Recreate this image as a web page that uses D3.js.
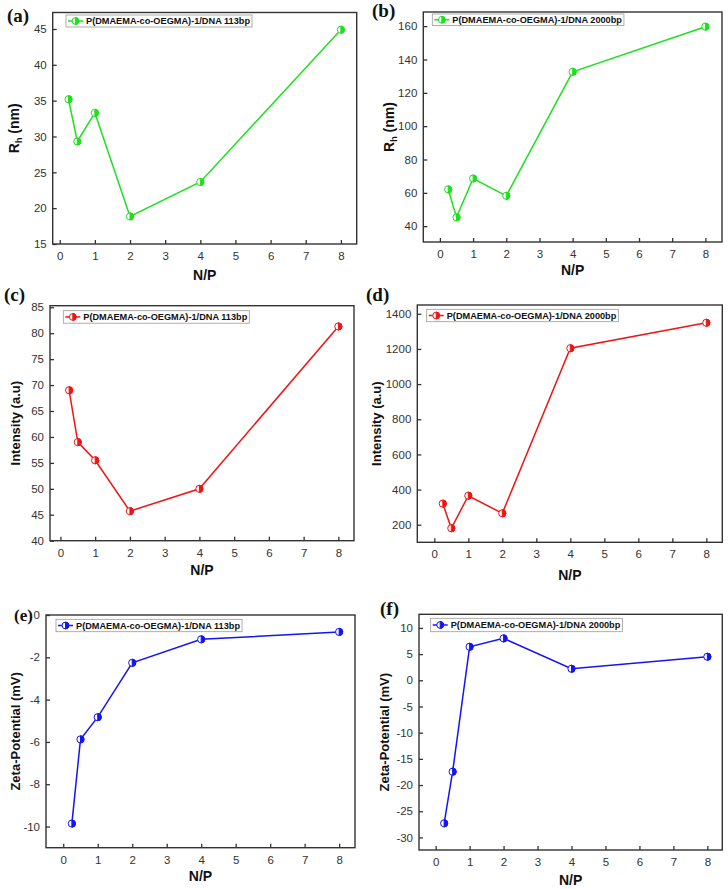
<!DOCTYPE html>
<html>
<head>
    <meta charset="utf-8">
    <title>N/P panels</title>
    <script src="https://d3js.org/d3.v7.min.js"></script>
    <style>
        body {
            margin: 0;
            background: #ffffff;
            font-family: "Liberation Sans", Arial, sans-serif;
        }
        .tick text {
            font-size: 11.5px;
            fill: #333333;
        }
        .tick line {
            stroke: #333333;
            stroke-width: 1.3px;
        }
        .frame {
            fill: none;
            stroke: #333333;
            stroke-width: 1.4px;
        }
        .axis-label {
            font-weight: bold;
            fill: #111111;
        }
        .panel-label {
            font-family: "Liberation Serif", "Times New Roman", serif;
            font-weight: bold;
            fill: #111111;
        }
        .legend-box {
            fill: #ffffff;
            stroke: #9a9a9a;
            stroke-width: 0.8px;
        }
        .legend text {
            font-size: 9.2px;
            font-weight: bold;
            fill: #111111;
        }
    </style>
</head>
<body>
    <div id="chart"></div>

    <script>
        // values
        const npValues = [0.25, 0.5, 1, 2, 4, 8];
        const rh113 = [35.2, 29.3, 33.3, 18.85, 23.65, 44.9];
        const rh2000 = [62.1, 45.3, 68.6, 58.2, 132.6, 159.7];
        const int113 = [69.0, 59.0, 55.5, 45.7, 50.0, 81.3];
        const int2000 = [320, 180, 365, 265, 1204, 1349];
        const zeta113 = [-9.86, -5.88, -4.83, -2.26, -1.15, -0.8];
        const zeta2000 = [-27.3, -17.45, 6.4, 8.0, 2.2, 4.5];

        const xTicks = [0, 1, 2, 3, 4, 5, 6, 7, 8];
        const rh113Ticks = [15, 20, 25, 30, 35, 40, 45];
        const rh2000Ticks = [40, 60, 80, 100, 120, 140, 160];
        const int113Ticks = [40, 45, 50, 55, 60, 65, 70, 75, 80, 85];
        const int2000Ticks = [200, 400, 600, 800, 1000, 1200, 1400];
        const zeta113Ticks = [-10, -8, -6, -4, -2, 0];
        const zeta2000Ticks = [-30, -25, -20, -15, -10, -5, 0, 5, 10];

        const seriesShort = "P(DMAEMA-co-OEGMA)-1/DNA 113bp";
        const seriesLong = "P(DMAEMA-co-OEGMA)-1/DNA 2000bp";

        const green = "#1ee01e";
        const red = "#f01414";
        const blue = "#1414f5";

        const svg = d3.select('#chart').append('svg')
            .attr('width', 728)
            .attr('height', 889);

        const panels = [
            { label: '(a)', lx: 7, ly: 22, ls: 19, x0: 52.7, x1: 356.7, y0: 12.5, y1: 244,
              xDomain: [-0.2, 8.45], yDomain: [15, 47.3], ticks: rh113Ticks, values: rh113,
              color: green, name: seriesShort, yTitle: 'Rh', yTitleX: 14, xTitleY: 280,
              legend: [66, 15, 12] },
            { label: '(b)', lx: 372, ly: 17, ls: 19, x0: 423.3, x1: 722, y0: 12, y1: 242,
              xDomain: [-0.5, 8.5], yDomain: [30.5, 168.5], ticks: rh2000Ticks, values: rh2000,
              color: green, name: seriesLong, yTitle: 'Rh', yTitleX: 389, xTitleY: 275,
              legend: [432.3, 14, 11.5] },
            { label: '(c)', lx: 4, ly: 301, ls: 19, x0: 50, x1: 354, y0: 305.7, y1: 540.7,
              xDomain: [-0.3, 8.45], yDomain: [40, 85.3], ticks: int113Ticks, values: int113,
              color: red, name: seriesShort, yTitle: 'Intensity (a.u)', yTitleX: 15, xTitleY: 575,
              legend: [63.3, 310.7, 12.5] },
            { label: '(d)', lx: 366, ly: 301, ls: 19, x0: 417.3, x1: 722.3, y0: 305, y1: 542.3,
              xDomain: [-0.5, 8.47], yDomain: [100, 1450], ticks: int2000Ticks, values: int2000,
              color: red, name: seriesLong, yTitle: 'Intensity (a.u)', yTitleX: 376, xTitleY: 580,
              legend: [426.7, 309.3, 12.4] },
            { label: '(e)', lx: 14, ly: 621, ls: 17, x0: 46, x1: 355, y0: 615, y1: 847.7,
              xDomain: [-0.5, 8.46], yDomain: [-11, 0], ticks: zeta113Ticks, values: zeta113,
              color: blue, name: seriesShort, yTitle: 'Zeta-Potential (mV)', yTitleX: 15, xTitleY: 881,
              legend: [56, 619.3, 12.4] },
            { label: '(f)', lx: 380, ly: 615, ls: 19, x0: 419, x1: 722.3, y0: 614.3, y1: 850,
              xDomain: [-0.49, 8.44], yDomain: [-32.4, 12.6], ticks: zeta2000Ticks, values: zeta2000,
              color: blue, name: seriesLong, yTitle: 'Zeta-Potential (mV)', yTitleX: 384, xTitleY: 885,
              legend: [430.7, 618.3, 13.4] }
        ];

        // half filled circle, open on the left
        const drawMarker = (sel, color, r) => {
            sel.append('circle')
                .attr('r', r)
                .attr('fill', '#ffffff')
                .attr('stroke', color)
                .attr('stroke-width', 1);
            sel.append('path')
                .attr('d', `M0,${-r} A${r},${r} 0 0 1 0,${r} Z`)
                .attr('fill', color)
                .attr('stroke', color)
                .attr('stroke-width', 1);
        };

        const plain = d => String(d);

        const render = p => {
            const xScale = d3.scaleLinear().domain(p.xDomain).range([p.x0, p.x1]);
            const yScale = d3.scaleLinear().domain(p.yDomain).range([p.y1, p.y0]);
            const data = npValues.map((x, i) => ({ x: x, y: p.values[i] }));

            const g = svg.append('g');

            const xAxisG = g.append('g')
                .attr('transform', `translate(0,${p.y1})`)
                .call(d3.axisBottom(xScale).tickValues(xTicks).tickFormat(plain).tickSize(-4).tickPadding(8));
            xAxisG.select('.domain').remove();

            const yAxisG = g.append('g')
                .attr('transform', `translate(${p.x0},0)`)
                .call(d3.axisLeft(yScale).tickValues(p.ticks).tickFormat(plain).tickSize(-4).tickPadding(6));
            yAxisG.select('.domain').remove();
            g.selectAll('.tick text').attr('font-family', null);
            xAxisG.attr('font-family', null).attr('font-size', null);
            yAxisG.attr('font-family', null).attr('font-size', null);

            g.append('rect')
                .attr('class', 'frame')
                .attr('x', p.x0)
                .attr('y', p.y0)
                .attr('width', p.x1 - p.x0)
                .attr('height', p.y1 - p.y0);

            const line = d3.line().x(d => xScale(d.x)).y(d => yScale(d.y));
            g.append('path')
                .datum(data)
                .attr('d', line)
                .attr('fill', 'none')
                .attr('stroke', p.color)
                .attr('stroke-width', 1.5);

            g.selectAll('.pt').data(data)
                .enter().append('g')
                .attr('class', 'pt')
                .attr('transform', d => `translate(${xScale(d.x)},${yScale(d.y)})`)
                .each(function() { drawMarker(d3.select(this), p.color, 3.6); });

            // titles
            const midY = (p.y0 + p.y1) / 2;
            const yt = g.append('text')
                .attr('class', 'axis-label')
                .attr('font-size', 13)
                .attr('text-anchor', 'middle')
                .attr('transform', `translate(${p.yTitleX + 5},${midY}) rotate(-90)`);
            if (p.yTitle === 'Rh') {
                yt.attr('font-size', 14);
                yt.append('tspan').text('R');
                yt.append('tspan').attr('font-size', 9).attr('dy', 3).text('h');
                yt.append('tspan').attr('dy', -3).text(' (nm)');
            } else {
                yt.text(p.yTitle);
            }

            g.append('text')
                .attr('class', 'axis-label')
                .attr('font-size', 14)
                .attr('text-anchor', 'middle')
                .attr('x', (p.x0 + p.x1) / 2)
                .attr('y', p.xTitleY)
                .text('N/P');

            g.append('text')
                .attr('class', 'panel-label')
                .attr('font-size', p.ls)
                .attr('x', p.lx)
                .attr('y', p.ly)
                .text(p.label);

            // legend
            const [bx, by, bh] = p.legend;
            const legend = g.append('g').attr('class', 'legend');
            const box = legend.append('rect').attr('class', 'legend-box')
                .attr('x', bx).attr('y', by).attr('height', bh);
            legend.append('line')
                .attr('x1', bx + 2).attr('x2', bx + 17)
                .attr('y1', by + bh / 2).attr('y2', by + bh / 2)
                .attr('stroke', p.color).attr('stroke-width', 1.5);
            const lm = legend.append('g').attr('transform', `translate(${bx + 9.5},${by + bh / 2})`);
            drawMarker(lm, p.color, 3.4);
            const lt = legend.append('text')
                .attr('x', bx + 20)
                .attr('y', by + bh / 2 + 3.3)
                .text(p.name);
            box.attr('width', lt.node().getComputedTextLength() + 22);
        };

        panels.forEach(render);
    </script>
</body>
</html>
